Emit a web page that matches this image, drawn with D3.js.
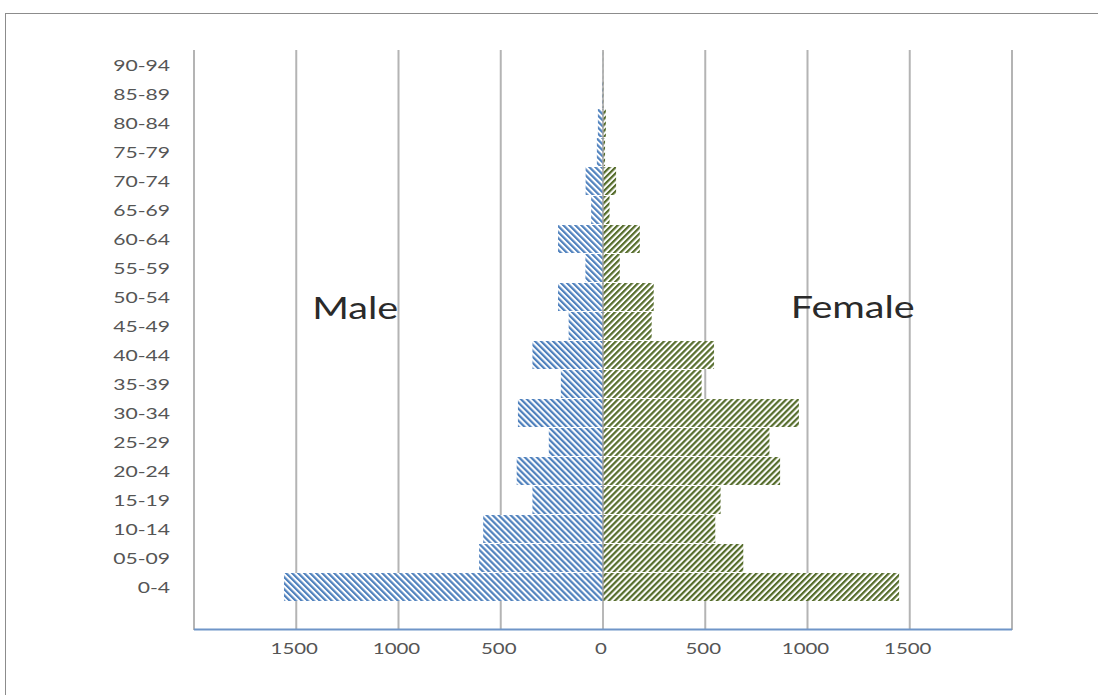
<!DOCTYPE html>
<html>
<head>
<meta charset="utf-8">
<script src="https://cdn.jsdelivr.net/npm/d3@7"></script>
<style>
  html, body { margin: 0; padding: 0; background: #fff; }
  svg { display: block; }
  text { font-family: Lato, "Open Sans", sans-serif; }
</style>
</head>
<body>
<div id="view"></div>
<script>
// age groups, bottom to top
const ageGroups = ["0-4","05-09","10-14","15-19","20-24","25-29","30-34","35-39","40-44",
  "45-49","50-54","55-59","60-64","65-69","70-74","75-79","80-84","85-89","90-94"];
const maleValues   = [1560, 606, 586, 345, 422, 265, 416, 206, 345, 168, 220, 86, 220, 58, 85, 30, 25, 5, 1];
const femaleValues = [1448, 686, 549, 575, 866, 814, 958, 482, 543, 238, 248, 82, 180, 32, 64, 10, 14, 3, 1];
const gridValues = [-2000, -1500, -1000, -500, 0, 500, 1000, 1500, 2000];
const tickValues = [-1500, -1000, -500, 0, 500, 1000, 1500];

const W = 1098, H = 695;
const SX = 1.32; // the source picture is stretched sideways

const svg = d3.select("#view").append("svg").attr("width", W).attr("height", H);

// chart frame (runs off the right and bottom edge)
svg.append("rect")
  .attr("x", 5.5).attr("y", 13.5).attr("width", W + 20).attr("height", H + 20)
  .attr("fill", "none").attr("stroke", "#8c8c8c");

const x = d3.scaleLinear().domain([-2000, 2000]).range([194, 1012]);
// one empty slot under 0-4, like the source
const y = d3.scaleBand().domain(["", ...ageGroups].reverse()).range([50.5, 630.5])
  .paddingInner(0.035).paddingOuter(0.0175);
const plotTop = 50, plotBottom = 630;

// patterns
const defs = svg.append("defs");
function hatch(id, color, angle) {
  const p = defs.append("pattern").attr("id", id)
    .attr("patternUnits", "userSpaceOnUse")
    .attr("width", 4.25).attr("height", 4.25)
    .attr("patternTransform", `rotate(${angle})`);
  p.append("rect").attr("width", 4.25).attr("height", 4.25).attr("fill", "#fff");
  p.append("rect").attr("width", 2.2).attr("height", 4.25).attr("fill", color);
}
hatch("maleHatch", "#4f81bd", -45);
hatch("femaleHatch", "#566d2c", 45);

// vertical gridlines
svg.append("g").selectAll("line").data(gridValues.filter(v => v !== 0)).join("line")
  .attr("x1", d => x(d)).attr("x2", d => x(d))
  .attr("y1", plotTop).attr("y2", plotBottom)
  .attr("stroke", "#b4b4b4").attr("stroke-width", 2);

const rows = ageGroups.map((a, i) => ({ age: a, male: maleValues[i], female: femaleValues[i] }));

// bars
svg.append("g").selectAll("rect").data(rows).join("rect")
  .attr("x", d => x(-d.male)).attr("y", d => y(d.age))
  .attr("width", d => x(0) - x(-d.male)).attr("height", y.bandwidth())
  .attr("fill", "url(#maleHatch)");
svg.append("g").selectAll("rect").data(rows).join("rect")
  .attr("x", x(0)).attr("y", d => y(d.age))
  .attr("width", d => x(d.female) - x(0)).attr("height", y.bandwidth())
  .attr("fill", "url(#femaleHatch)");

// zero line over the bars
svg.append("line")
  .attr("x1", x(0)).attr("x2", x(0)).attr("y1", plotTop).attr("y2", plotBottom)
  .attr("stroke", "#a0a0a0").attr("stroke-width", 1.5);

// horizontal axis line
svg.append("line")
  .attr("x1", x(-2000)).attr("x2", x(2000)).attr("y1", 629.5).attr("y2", 629.5)
  .attr("stroke", "#6f95c8").attr("stroke-width", 2);

// category labels
svg.append("g").selectAll("text").data(ageGroups).join("text")
  .attr("transform", d => `translate(170,${y(d) + y.bandwidth() / 2}) scale(${SX},1)`)
  .attr("text-anchor", "end").attr("dy", "0.36em")
  .attr("font-size", 16).attr("fill", "#555")
  .text(d => d);

// value tick labels
svg.append("g").selectAll("text").data(tickValues).join("text")
  .attr("transform", d => `translate(${x(d) - 2},648) scale(${SX},1)`)
  .attr("text-anchor", "middle").attr("dy", "0.36em")
  .attr("font-size", 15.5).attr("fill", "#555")
  .text(d => Math.abs(d));

// series annotations
svg.append("text")
  .attr("transform", `translate(${x(-1422)},319) scale(${SX},1)`)
  .attr("font-size", 30).attr("fill", "#2a2a2a").text("Male");
svg.append("text")
  .attr("transform", `translate(${x(918)},318) scale(${SX},1)`)
  .attr("font-size", 30).attr("fill", "#2a2a2a").text("Female");
</script>
</body>
</html>
